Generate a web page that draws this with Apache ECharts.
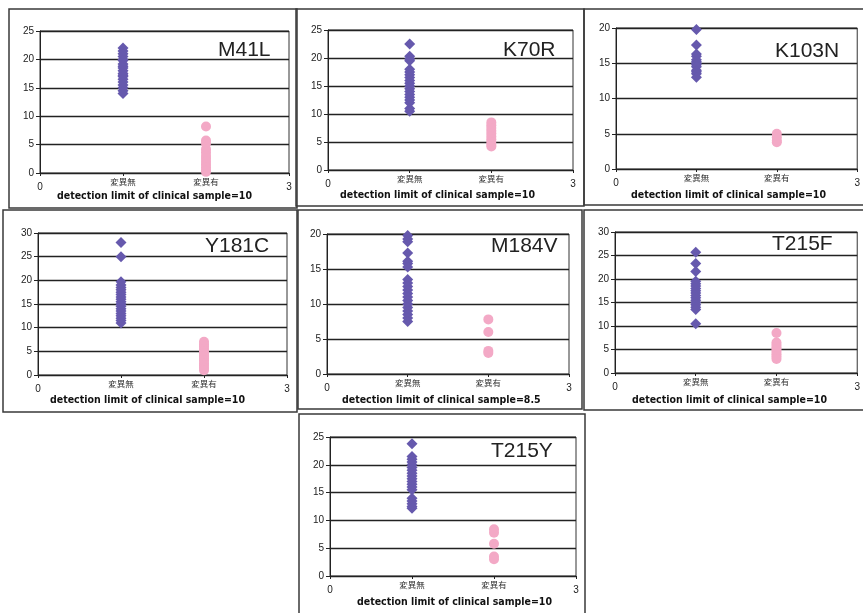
<!DOCTYPE html>
<html><head><meta charset="utf-8">
<script src="https://cdn.jsdelivr.net/npm/echarts@6/dist/echarts.min.js"></script>
<style>html,body{margin:0;padding:0;background:#fff}#c{width:863px;height:613px}</style>
</head><body><div id="c"></div>
<script>
// ---- data ----
const categories = ['変異無', '変異有'];
const xTickLabels = ['0', '3'];
const panelNames = ['M41L', 'K70R', 'K103N', 'Y181C', 'M184V', 'T215F', 'T215Y'];
const axisTitles = ['detection limit of clinical sample=10', 'detection limit of clinical sample=10',
  'detection limit of clinical sample=10', 'detection limit of clinical sample=10',
  'detection limit of clinical sample=8.5', 'detection limit of clinical sample=10',
  'detection limit of clinical sample=10'];
const yMaxValues = [25, 25, 20, 30, 20, 30, 25];
const yInterval = 5;

const m41l_without = [22, 21.5, 21, 20.5, 20, 19.8, 19.2, 18.8, 18.5, 18, 17.5, 17.2, 17, 16.5, 16, 15.5, 15, 14.5, 14];
const m41l_with = [8.2, 5.7, 5.2, 4.2, 3.6, 3, 2.5, 2, 1.5, 1, 0.5, 0.2];
const k70r_without = [22.5, 20.3, 19.8, 19.5, 18, 17.5, 17, 16.5, 16, 15.5, 15, 14.5, 14, 13.5, 13, 12.5, 12, 11, 10.5];
const k70r_with = [8.5, 8, 7.5, 7, 6.5, 6, 5.5, 5, 4.5, 4.2];
const k103n_without = [19.8, 17.6, 16.3, 16, 15.5, 15.2, 15, 14.8, 14.5, 14, 13.8, 13.5, 13];
const k103n_with = [5, 4.5, 4, 3.8];
const y181c_without = [28, 25, 19.7, 19, 18.5, 18, 17.5, 17, 16.5, 16, 15.5, 15, 14.5, 14, 13.5, 13, 12.5, 12, 11.5, 11];
const y181c_with = [7, 6.5, 6, 5.5, 5, 4.5, 4, 3.5, 3, 2.5, 2, 1.5, 1];
const m184v_without = [19.8, 19.3, 18.9, 17.3, 16.1, 15.8, 15.3, 13.5, 13, 12.5, 12, 11.5, 11, 10.5, 10, 9.5, 9, 8.5, 8, 7.5];
const m184v_with = [7.8, 6, 3.3, 3.0];
const t215f_without = [25.7, 23.3, 21.6, 19.5, 19, 18.5, 18, 17.5, 17, 16.5, 16, 15.5, 15, 14.5, 14, 13.5, 10.5];
const t215f_with = [8.5, 6.5, 6, 5.5, 5, 4.5, 4, 3.5, 3];
const t215y_without = [23.8, 21.5, 21, 20.5, 20, 19.5, 19, 18.5, 18, 17.5, 17, 16.5, 16, 15.5, 14, 13.5, 13, 12.5, 12.2];
const t215y_with = [8.4, 7.8, 5.8, 3.5, 3.0];

const withoutSets = [m41l_without, k70r_without, k103n_without, y181c_without, m184v_without, t215f_without, t215y_without];
const withSets = [m41l_with, k70r_with, k103n_with, y181c_with, m184v_with, t215f_with, t215y_with];

// ---- layout ----
const grids = [
  {left: 40, top: 31, width: 249, height: 142},
  {left: 328, top: 30, width: 245, height: 140},
  {left: 616, top: 28, width: 244, height: 141},
  {left: 38, top: 233, width: 249, height: 142},
  {left: 327, top: 234, width: 242, height: 140},
  {left: 615, top: 232, width: 243, height: 141},
  {left: 330, top: 437, width: 246, height: 139}
];
const nameLabelPos = [[218, 52], [503, 52], [775, 53], [205, 248], [491, 248], [772, 246], [491, 453]];
const axisTitlePos = [[57, 197], [340, 196], [631, 196], [50, 401], [342, 401], [632, 401], [357, 603]];
const frames = [
  [9, 9, 288, 199], [296, 9, 288, 197], [584, 9, 290, 196],
  [3, 210, 294, 202], [298, 210, 284, 199], [584, 210, 290, 200],
  [299, 414, 286, 210]
];

const FONT = "'Liberation Sans', Arial, sans-serif";
const NARROW = "'Liberation Sans Narrow', 'Arial Narrow', 'DejaVu Sans Condensed', sans-serif";

const option = {
  animation: false,
  backgroundColor: '#fff',
  grid: grids.map(g => Object.assign({show: true, borderColor: '#333', borderWidth: 1, backgroundColor: 'transparent'}, g)),
  xAxis: grids.map((g, i) => ({
    type: 'value', gridIndex: i, min: 0, max: 3, interval: 1,
    axisLine: {show: true, lineStyle: {color: '#222', width: 1}},
    axisTick: {show: true, length: 3, lineStyle: {color: '#222'}},
    splitLine: {show: false},
    axisLabel: {
      margin: 5, color: '#222', fontFamily: FONT,
      formatter: v => v === 0 ? '{n|' + xTickLabels[0] + '}' : v === 3 ? '{n|' + xTickLabels[1] + '}' : '{c|' + categories[v - 1] + '}',
      rich: {
        n: {fontSize: 10, padding: [4, 0, 0, 0], fontFamily: FONT, color: '#222'},
        c: {fontSize: 8.5, fontFamily: "'Noto Sans CJK JP', sans-serif", color: '#333'}
      }
    }
  })),
  yAxis: grids.map((g, i) => ({
    type: 'value', gridIndex: i, min: 0, max: yMaxValues[i], interval: yInterval,
    axisLine: {show: true, lineStyle: {color: '#222', width: 1}},
    axisTick: {show: true, length: 4, lineStyle: {color: '#222'}},
    splitLine: {show: true, lineStyle: {color: '#222', width: 1.3}},
    axisLabel: {fontSize: 10, color: '#222', margin: 6, fontFamily: FONT}
  })),
  title: [
    ...panelNames.map((n, i) => ({
      text: n, left: nameLabelPos[i][0], top: nameLabelPos[i][1] - 12, padding: 0,
      textStyle: {fontSize: 21, fontWeight: 'normal', color: '#222', fontFamily: FONT}
    })),
    ...axisTitles.map((t, i) => ({
      text: t, left: axisTitlePos[i][0], top: axisTitlePos[i][1] - 6, padding: 0,
      textStyle: {fontSize: 10.5, fontWeight: 'bold', color: '#111', fontFamily: NARROW}
    }))
  ],
  graphic: frames.map(f => ({
    type: 'rect', shape: {x: f[0], y: f[1], width: f[2], height: f[3]},
    style: {fill: 'none', stroke: '#3a3a3a', lineWidth: 1.5}, silent: true, z: 100
  })),
  series: [
    ...withoutSets.map((arr, i) => ({
      type: 'scatter', xAxisIndex: i, yAxisIndex: i, symbol: 'diamond', symbolSize: 11,
      itemStyle: {color: '#6659ad', opacity: 1}, data: arr.map(v => [1, v])
    })),
    ...withSets.map((arr, i) => ({
      type: 'scatter', xAxisIndex: i, yAxisIndex: i, symbol: 'circle', symbolSize: 10,
      itemStyle: {color: '#f3a9c6', opacity: 1}, data: arr.map(v => [2, v])
    }))
  ]
};
const chart = echarts.init(document.getElementById('c'), null, {renderer: 'canvas'});
chart.setOption(option);
</script></body></html>
